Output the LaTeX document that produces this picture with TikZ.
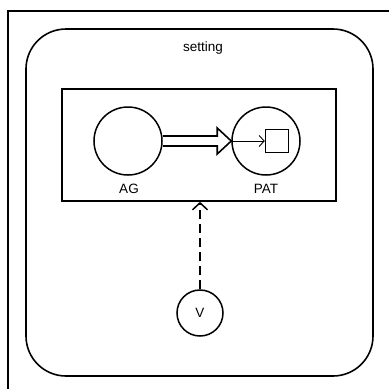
\documentclass[tikz,border=0pt]{standalone}
\usepackage{fontspec}
\setmainfont{Liberation Sans}
\usetikzlibrary{arrows.meta,calc}
\tikzset{
  box/.style={draw, line width=1.6pt},
  role/.style={draw, circle, line width=1.5pt, minimum size=68pt, inner sep=0pt},
  lbl/.style={font=\fontsize{13.5}{16}\selectfont}
}
\begin{document}
\begin{tikzpicture}[x=1pt, y=-1pt]
    \useasboundingbox (0,0) rectangle (389,389);
    \clip (0,0) rectangle (389,389);
    % frame around the whole setting
    \draw[box] (8,11) rectangle (420,420);
    \draw[box, rounded corners=40pt] (26,29) rectangle (373,376);
    \node[lbl] (setting) at (203,48) {setting};
    % the event box with its two participants
    \node[box, minimum width=274pt, minimum height=112pt, inner sep=0pt] (event) at (199,145) {};
    \node[role] (ag) at (128,141) {};
    \node[role] (pat) at (266,141) {};
    \node[draw, line width=1.5pt, minimum size=23pt, inner sep=0pt] (obj) at (277,141) {};
    \node[lbl] (aglbl) at (129,189) {AG};
    \node[lbl] (patlbl) at (266,189) {PAT};
    % hollow arrow from AG to PAT
    \draw[line width=1.6pt, line join=miter]
      ($(ag.east)+(0,-5)$) -- ($(pat.west)+(-14,-5)$) -- ($(pat.west)+(-14,-13)$)
      -- (pat.west) -- ($(pat.west)+(-14,13)$) -- ($(pat.west)+(-14,5)$) -- ($(ag.east)+(0,5)$);
    \draw[line width=0.9pt, -{Straight Barb[length=5pt, width=11pt]}] (pat.west) -- (obj);
    % the V node pointing up into the event
    \node[draw, circle, line width=1.5pt, minimum size=46pt, inner sep=0pt, lbl] (v) at (200,313) {V};
    \draw[line width=1.5pt, dash pattern=on 9pt off 5pt, -{Straight Barb[length=7pt, width=15pt]}] (v) -- (event.south -| v);
  \end{tikzpicture}
\end{document}
